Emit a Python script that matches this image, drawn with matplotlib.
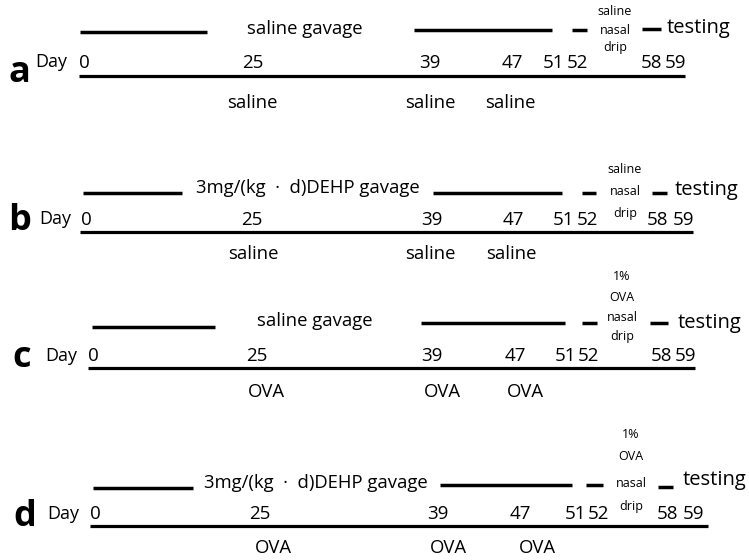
import matplotlib.pyplot as plt

plt.rcParams['font.family'] = ['Open Sans', 'DejaVu Sans']

# chart content
panel_letters = ['a', 'b', 'c', 'd']
day_labels = ['0', '25', '39', '47', '51', '52', '58', '59']
gavage_text = ['saline gavage', '3mg/(kg  \u00b7  d)DEHP gavage',
               'saline gavage', '3mg/(kg  \u00b7  d)DEHP gavage']
drip_text = [['saline', 'nasal', 'drip'],
             ['saline', 'nasal', 'drip'],
             ['1%', 'OVA', 'nasal', 'drip'],
             ['1%', 'OVA', 'nasal', 'drip']]
inject_text = ['saline', 'saline', 'OVA', 'OVA']
test_text = 'testing'

# layout (pixel positions, y from top)
day_x = [[84, 253, 430, 512, 554, 577, 651, 675],
         [86, 252, 432, 513, 563, 587, 658, 684],
         [93, 257, 432, 515, 565, 588, 661, 686],
         [95, 260, 438, 520, 576, 598, 668, 694]]
day_y = [68, 225, 361, 519]
letter_xy = [(8, 82), (8, 230), (12, 367), (13, 526)]
day_word_xy = [(35, 67), (39, 224), (45, 361), (47, 519)]
axis_x = [(79, 685), (80, 693), (88, 695), (90, 708)]
axis_y = [76, 232, 368, 526]
segments = [[(80, 207, 32), (414, 552, 30), (572, 587, 30), (642, 661, 29)],
            [(83, 182, 193), (433, 562, 193), (582, 596, 193), (652, 667, 193)],
            [(92, 215, 327), (421, 565, 323), (582, 597, 323), (650, 668, 323)],
            [(93, 193, 488), (440, 572, 485), (586, 603, 485), (658, 673, 487)]]
gavage_xy = [(247, 34), (196, 193), (257, 326), (204, 488)]
test_xy = [(667, 33), (675, 195), (678, 328), (683, 485)]
drip_x = [615, 625, 622, 631]
drip_y = [[15, 34, 51], [173, 195, 217], [280, 301, 321, 340], [438, 460, 487, 510]]
inject_x = [[252, 430, 510], [253, 430, 511], [266, 442, 525], [273, 448, 537]]
inject_y = [108, 259, 397, 553]

fig = plt.figure(figsize=(7.49, 5.6), dpi=100)
ax = fig.add_axes([0, 0, 1, 1])
ax.set_xlim(0, 749)
ax.set_ylim(560, 0)
ax.axis('off')

for i in range(4):
    lx, ly = letter_xy[i]
    ax.text(lx, ly, panel_letters[i], fontsize=26, fontweight='bold', va='baseline', ha='left')
    dx, dy = day_word_xy[i]
    ax.text(dx, dy, 'Day', fontsize=13, va='baseline', ha='left')
    for x, lab in zip(day_x[i], day_labels):
        ax.text(x, day_y[i], lab, fontsize=13.5, va='baseline', ha='center')
    ax.plot(axis_x[i], [axis_y[i], axis_y[i]], color='black', lw=2.3, solid_capstyle='butt')
    for x0, x1, y in segments[i]:
        ax.plot([x0, x1], [y, y], color='black', lw=2.5, solid_capstyle='butt')
    gx, gy = gavage_xy[i]
    ax.text(gx, gy, gavage_text[i], fontsize=13.3, va='baseline', ha='left')
    tx, ty = test_xy[i]
    ax.text(tx, ty, test_text, fontsize=14.5, va='baseline', ha='left')
    for y, word in zip(drip_y[i], drip_text[i]):
        ax.text(drip_x[i], y, word, fontsize=9, va='baseline', ha='center')
    for x in inject_x[i]:
        ax.text(x, inject_y[i], inject_text[i], fontsize=13.3, va='baseline', ha='center')

fig.savefig('out.png', dpi=100)
